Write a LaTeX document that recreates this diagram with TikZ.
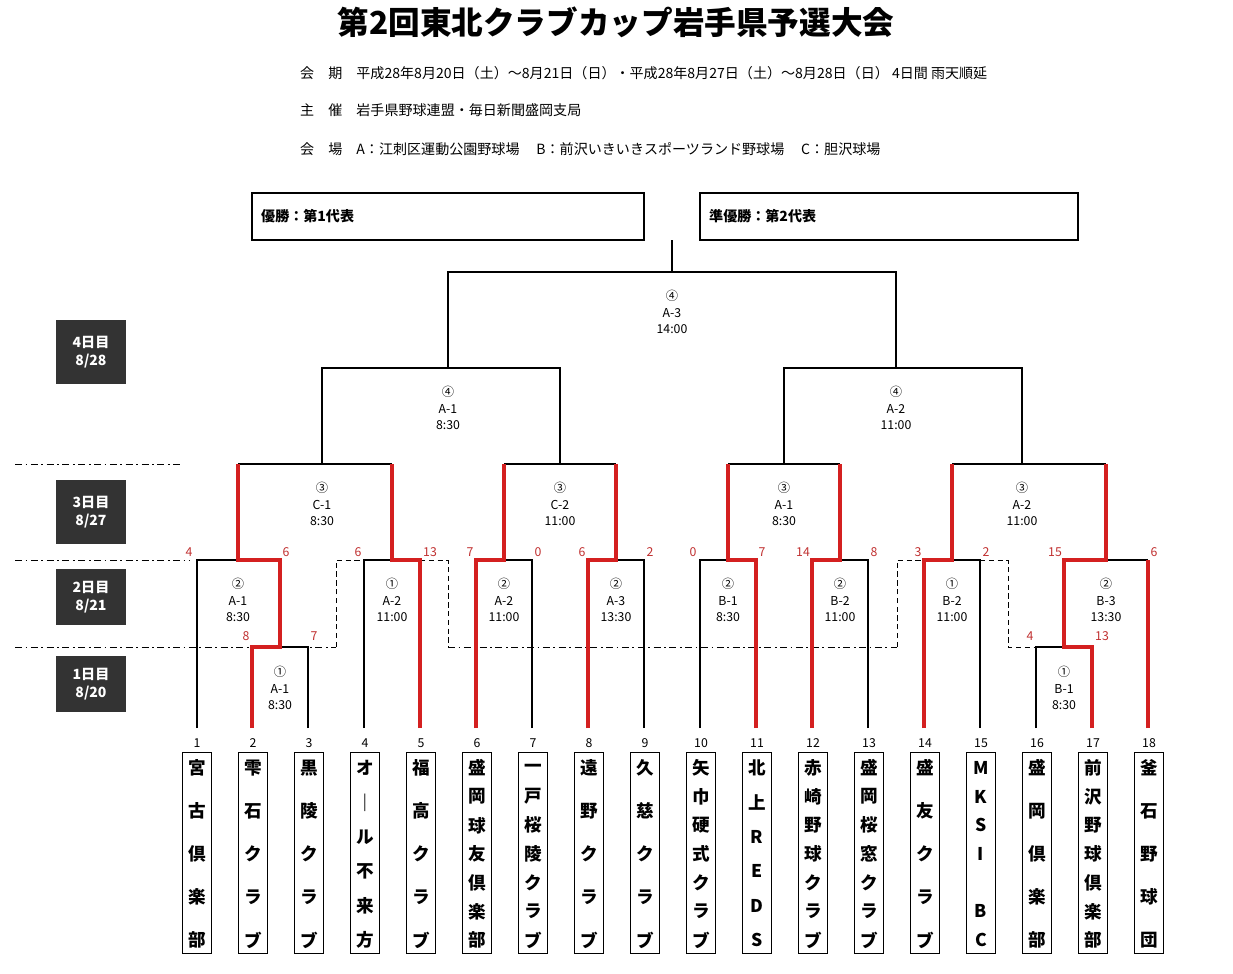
\documentclass[tikz,border=0pt]{standalone}
\usepackage{fontspec}
\setmainfont{Noto Sans CJK JP}
\usepackage{tikz}
\definecolor{winred}{HTML}{D42020}
\definecolor{scorered}{HTML}{C03030}
\definecolor{daygray}{HTML}{333333}

\tikzset{
  lose/.style={draw=black, line width=0.6pt},
  win/.style={draw=winred, line width=1.8pt},
  sep/.style={draw=black, line width=0.5pt, dash pattern=on 4pt off 2pt on 1pt off 2pt},
  sepd/.style={draw=black, line width=0.5pt, dash pattern=on 3pt off 2pt},
  game/.style={align=center, font=\fontsize{7}{9.2}\selectfont},
  score/.style={text=scorered, font=\fontsize{7}{8}\selectfont},
  daybox/.style={fill=daygray, text=white, align=center, minimum width=40pt, font=\bfseries\fontsize{8}{10}\selectfont},
  namebox/.style={draw, line width=0.6pt, minimum width=16pt, minimum height=114pt},
  teamchar/.style={font=\bfseries\fontsize{10}{10}\selectfont, inner sep=0pt},
  teamno/.style={font=\fontsize{7}{8}\selectfont},
  infotext/.style={anchor=west, font=\fontsize{8}{9}\selectfont},
}

% team macro: number, count of slots, characters
\newcommand{\teamname}[3]{%
  \node[namebox] (box#1) at ({141+56*#1},853) {};
  \node[teamno] (no#1) at ({141+56*#1},743) {#1};
  \foreach \ch [count=\k] in {#3}
    \node[teamchar] (ch#1-\k) at ({141+56*#1},{768+(\k-1)*172/(#2-1)}) {\ch};
}

\begin{document}
\begin{tikzpicture}[x=0.02cm, y=-0.02cm]
  \useasboundingbox (0,0) rectangle (1233,973);

  % Header
  \node[font=\bfseries\fontsize{18}{20}\selectfont] (title) at (616,22) {第2回東北クラブカップ岩手県予選大会};
  \node[infotext] (info1) at (294,73) {会\hspace{1em}期\hspace{1em}平成28年8月20日（土）～8月21日（日）・平成28年8月27日（土）～8月28日（日）\ 4日間\ 雨天順延};
  \node[infotext] (info2) at (294,110) {主\hspace{1em}催\hspace{1em}岩手県野球連盟・毎日新聞盛岡支局};
  \node[infotext] (info3) at (294,149) {会\hspace{1em}場\hspace{1em}A：江刺区運動公園野球場\hspace{1.2em}B：前沢いきいきスポーツランド野球場\hspace{1.2em}C：胆沢球場};

  % Winner boxes
  \draw[lose] (252,193) rectangle (644,240);
  \node[anchor=west, font=\bfseries\fontsize{8}{9}\selectfont] (first) at (255,216) {優勝：第1代表};
  \draw[lose] (700,193) rectangle (1078,240);
  \node[anchor=west, font=\bfseries\fontsize{8}{9}\selectfont] (second) at (703,216) {準優勝：第2代表};

  % Day labels
  \node[daybox, minimum height=36pt] (day4) at (91,352) {4日目\\8/28};
  \node[daybox, minimum height=36pt] (day3) at (91,512) {3日目\\8/27};
  \node[daybox, minimum height=32pt] (day2) at (91,597) {2日目\\8/21};
  \node[daybox, minimum height=32pt] (day1) at (91,684) {1日目\\8/20};

  % Day separators
  \draw[sep] (15,464) -- (183,464);
  \draw[sep] (15,560) -- (190,560);
  \draw[sep] (15,647) -- (336,647);
  \draw[sepd] (336,647) -- (336,560) -- (364,560);
  \draw[sepd] (420,560) -- (448,560) -- (448,647);
  \draw[sep] (448,647) -- (897,647);
  \draw[sepd] (897,647) -- (897,560) -- (924,560);
  \draw[sepd] (980,560) -- (1008,560) -- (1008,647) -- (1036,647);

  % Teams
  \teamname{1}{5}{宮,古,倶,楽,部}
  \teamname{2}{5}{雫,石,ク,ラ,ブ}
  \teamname{3}{5}{黒,陵,ク,ラ,ブ}
  \teamname{4}{6}{オ,｜,ル,不,来,方}
  \teamname{5}{5}{福,高,ク,ラ,ブ}
  \teamname{6}{7}{盛,岡,球,友,倶,楽,部}
  \teamname{7}{7}{一,戸,桜,陵,ク,ラ,ブ}
  \teamname{8}{5}{遠,野,ク,ラ,ブ}
  \teamname{9}{5}{久,慈,ク,ラ,ブ}
  \teamname{10}{7}{矢,巾,硬,式,ク,ラ,ブ}
  \teamname{11}{6}{北,上,R,E,D,S}
  \teamname{12}{7}{赤,崎,野,球,ク,ラ,ブ}
  \teamname{13}{7}{盛,岡,桜,窓,ク,ラ,ブ}
  \teamname{14}{5}{盛,友,ク,ラ,ブ}
  \teamname{15}{7}{M,K,S,I,{},B,C}
  \teamname{16}{5}{盛,岡,倶,楽,部}
  \teamname{17}{7}{前,沢,野,球,倶,楽,部}
  \teamname{18}{5}{釜,石,野,球,団}

  % Losing lines
  \draw[lose] (197,728) -- (197,560) -- (238,560);
  \draw[lose] (308,728) -- (308,647) -- (280,647);
  \draw[lose] (364,728) -- (364,560) -- (392,560);
  \draw[lose] (532,728) -- (532,560) -- (504,560);
  \draw[lose] (644,728) -- (644,560) -- (616,560);
  \draw[lose] (700,728) -- (700,560) -- (728,560);
  \draw[lose] (868,728) -- (868,560) -- (840,560);
  \draw[lose] (980,728) -- (980,560) -- (952,560);
  \draw[lose] (1036,728) -- (1036,647) -- (1064,647);
  \draw[lose] (1148,560) -- (1106,560);
  \draw[lose] (238,464) -- (392,464);
  \draw[lose] (504,464) -- (616,464);
  \draw[lose] (728,464) -- (840,464);
  \draw[lose] (952,464) -- (1106,464);
  \draw[lose] (322,464) -- (322,368) -- (560,368) -- (560,464);
  \draw[lose] (784,464) -- (784,368) -- (1022,368) -- (1022,464);
  \draw[lose] (448,368) -- (448,272) -- (896,272) -- (896,368);
  \draw[lose] (672,272) -- (672,240);

  % Winning lines
  \draw[win] (252,728) -- (252,647) -- (280,647) -- (280,560) -- (238,560) -- (238,464);
  \draw[win] (420,728) -- (420,560) -- (392,560) -- (392,464);
  \draw[win] (476,728) -- (476,560) -- (504,560) -- (504,464);
  \draw[win] (588,728) -- (588,560) -- (616,560) -- (616,464);
  \draw[win] (756,728) -- (756,560) -- (728,560) -- (728,464);
  \draw[win] (812,728) -- (812,560) -- (840,560) -- (840,464);
  \draw[win] (924,728) -- (924,560) -- (952,560) -- (952,464);
  \draw[win] (1092,728) -- (1092,647) -- (1064,647) -- (1064,560) -- (1106,560) -- (1106,464);
  \draw[win] (1148,728) -- (1148,560);

  % Games
  \node[game] (g15) at (672,312) {④\\A-3\\14:00};
  \node[game] (g13) at (448,408) {④\\A-1\\8:30};
  \node[game] (g14) at (896,408) {④\\A-2\\11:00};
  \node[game] (g9)  at (322,504) {③\\C-1\\8:30};
  \node[game] (g10) at (560,504) {③\\C-2\\11:00};
  \node[game] (g11) at (784,504) {③\\A-1\\8:30};
  \node[game] (g12) at (1022,504) {③\\A-2\\11:00};
  \node[game] (g3)  at (238,600) {②\\A-1\\8:30};
  \node[game] (g4)  at (392,600) {①\\A-2\\11:00};
  \node[game] (g5)  at (504,600) {②\\A-2\\11:00};
  \node[game] (g6)  at (616,600) {②\\A-3\\13:30};
  \node[game] (g7)  at (728,600) {②\\B-1\\8:30};
  \node[game] (g8)  at (840,600) {②\\B-2\\11:00};
  \node[game] (g16) at (952,600) {①\\B-2\\11:00};
  \node[game] (g17) at (1106,600) {②\\B-3\\13:30};
  \node[game] (g1)  at (280,688) {①\\A-1\\8:30};
  \node[game] (g2)  at (1064,688) {①\\B-1\\8:30};

  % Scores
  \foreach \sx/\sv [count=\n] in {189/4, 286/6, 358/6, 430/13, 470/7, 538/0, 582/6, 650/2,
      693/0, 762/7, 803/14, 874/8, 918/3, 986/2, 1055/15, 1154/6}
    \node[score] (s\n) at (\sx,552) {\sv};
  \node[score] (sa) at (246,636) {8};
  \node[score] (sb) at (314,636) {7};
  \node[score] (sc) at (1030,636) {4};
  \node[score] (sd) at (1102,636) {13};
\end{tikzpicture}
\end{document}
